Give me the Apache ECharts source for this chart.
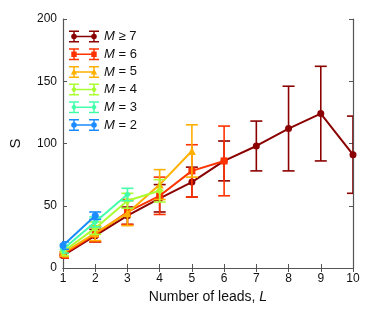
<!DOCTYPE html>
<html>
<head>
<meta charset="utf-8">
<script src="https://cdn.jsdelivr.net/npm/echarts@6/dist/echarts.min.js"></script>
<style>html,body{margin:0;padding:0;background:#fff}#c{width:374px;height:318px}</style>
</head>
<body>
<div id="c"></div>
<script>
// ---- data ----
const leads = [1, 2, 3, 4, 5, 6, 7, 8, 9, 10];
const names = ['M≥7', 'M=6', 'M=5', 'M=4', 'M=3', 'M=2'];
const labels = ['≥ 7', '= 6', '= 5', '= 4', '= 3', '= 2'];
const meanM7 = [10, 26, 42, 56, 69, 86, 98, 112, 124, 91];
const errM7  = [2, 5, 7, 11, 12, 16, 20, 34, 38, 31];
const meanM6 = [11, 27, 45, 58, 78, 86];
const errM6  = [3, 6, 10, 15, 21, 28];
const meanM5 = [12, 28, 44, 67, 94];
const errM5  = [3, 6, 10, 12, 21];
const meanM4 = [13, 32, 54, 62];
const errM4  = [3, 5, 6, 9];
const meanM3 = [15, 37, 59];
const errM3  = [3, 4, 5];
const meanM2 = [18, 42];
const errM2  = [3, 3];
const yTicks = [0, 50, 100, 150, 200];

const means = [meanM7, meanM6, meanM5, meanM4, meanM3, meanM2];
const errs = [errM7, errM6, errM5, errM4, errM3, errM2];
const colors = ['#8b0000', '#ff3300', '#ffb000', '#aaff33', '#44ffaa', '#1a8cff'];
const symbols = ['circle', 'rect', 'triangle', 'diamond', 'diamond', 'circle'];
const symSizes = [7, 7, 8, 8, 7, 7];

// legend icon shapes (30 x 12), all sub-paths clockwise
const base = 'M0 0H10V1.5H0Z M0 10.5H10V12H0Z M4.25 0H5.75V12H4.25Z ' +
             'M20 0H30V1.5H20Z M20 10.5H30V12H20Z M24.25 0H25.75V12H24.25Z ' +
             'M5 5.25H25V6.75H5Z ';
function marker(shape, cx) {
  if (shape === 'circle') return `M${cx-2.8} 6 A2.8 2.8 0 1 1 ${cx+2.8} 6 A2.8 2.8 0 1 1 ${cx-2.8} 6Z `;
  if (shape === 'rect') return `M${cx-2.7} 3.3H${cx+2.7}V8.7H${cx-2.7}Z `;
  if (shape === 'triangle') return `M${cx} 2.6L${cx+3.1} 8.5H${cx-3.1}Z `;
  return `M${cx} 2.5L${cx+2.7} 6L${cx} 9.5L${cx-2.7} 6Z `;
}
const icons = symbols.map(s => 'path://' + base + marker(s, 5) + marker(s, 25));

const series = [];
names.forEach((nm, i) => {
  const pts = means[i].map((v, k) => [leads[k], v]);
  const bars = means[i].map((v, k) => [leads[k], v - errs[i][k], v + errs[i][k]]);
  series.push({
    name: nm, type: 'custom', z: 2 + i * 2,
    clip: true,
    data: bars,
    encode: { x: 0, y: [1, 2] },
    renderItem: function (params, api) {
      const x = api.value(0);
      const lo = api.coord([x, api.value(1)]);
      const hi = api.coord([x, api.value(2)]);
      const w = 6;
      const st = { stroke: colors[i], lineWidth: 1.6 };
      return {
        type: 'group',
        children: [
          { type: 'line', shape: { x1: lo[0], y1: lo[1], x2: hi[0], y2: hi[1] }, style: st },
          { type: 'line', shape: { x1: lo[0] - w, y1: lo[1], x2: lo[0] + w, y2: lo[1] }, style: st },
          { type: 'line', shape: { x1: hi[0] - w, y1: hi[1], x2: hi[0] + w, y2: hi[1] }, style: st }
        ]
      };
    }
  });
  series.push({
    name: nm, type: 'line', z: 3 + i * 2,
    data: pts,
    symbol: symbols[i], symbolSize: symSizes[i],
    showSymbol: true,
    lineStyle: { color: colors[i], width: 2 },
    itemStyle: { color: colors[i], borderWidth: 0 },
    animation: false
  });
});

const chart = echarts.init(document.getElementById('c'), null, { renderer: 'canvas' });
const axisCommon = {
  axisLine: { show: true, lineStyle: { color: '#555', width: 1.2 } },
  axisTick: { show: true, inside: true, length: 4, lineStyle: { color: '#555' } },
  splitLine: { show: false }
};
chart.setOption({
  animation: false,
  color: colors,
  textStyle: { fontFamily: 'Liberation Sans, Arial, sans-serif' },
  grid: { left: 59, right: 21, top: 19, bottom: 50, containLabel: false },
  legend: {
    data: names.map((n, i) => ({ name: n, icon: icons[i], itemStyle: { color: colors[i] } })),
    orient: 'vertical', left: 64, top: 25,
    itemWidth: 30, itemHeight: 12, itemGap: 4.7,
    symbolKeepAspect: false,
    selectedMode: false,
    formatter: function (n) { return '{i|M}{n| ' + labels[names.indexOf(n)] + '}'; },
    textStyle: {
      color: '#111', fontSize: 13,
      rich: {
        i: { fontStyle: 'italic', fontSize: 13, color: '#111', fontFamily: 'Liberation Sans' },
        n: { fontSize: 13, color: '#111', fontFamily: 'Liberation Sans' }
      }
    }
  },
  xAxis: [
    Object.assign({
      type: 'value', min: 1, max: 10, interval: 1, position: 'bottom',
      axisLabel: { color: '#111', fontSize: 12, margin: 5 },
      name: '{n|Number of leads, }{i|L}', nameLocation: 'middle', nameGap: 22,
      nameTextStyle: {
        rich: {
          n: { fontSize: 14, color: '#111', fontFamily: 'Liberation Sans' },
          i: { fontSize: 14, color: '#111', fontStyle: 'italic', fontFamily: 'Liberation Sans' }
        }
      }
    }, axisCommon),
    Object.assign({
      type: 'value', min: 1, max: 10, interval: 1, position: 'top',
      axisLabel: { show: false }
    }, axisCommon)
  ],
  yAxis: [
    Object.assign({
      type: 'value', min: yTicks[0], max: yTicks[yTicks.length - 1], interval: 50, position: 'left',
      axisLabel: { color: '#111', fontSize: 12, margin: 6 },
      name: 'S', nameLocation: 'middle', nameGap: 40, nameRotate: 90,
      nameTextStyle: { fontSize: 15, color: '#111', fontFamily: 'Liberation Sans' }
    }, axisCommon),
    Object.assign({
      type: 'value', min: yTicks[0], max: yTicks[yTicks.length - 1], interval: 50, position: 'right',
      axisLabel: { show: false }
    }, axisCommon)
  ],
  series: series
});
</script>
</body>
</html>
